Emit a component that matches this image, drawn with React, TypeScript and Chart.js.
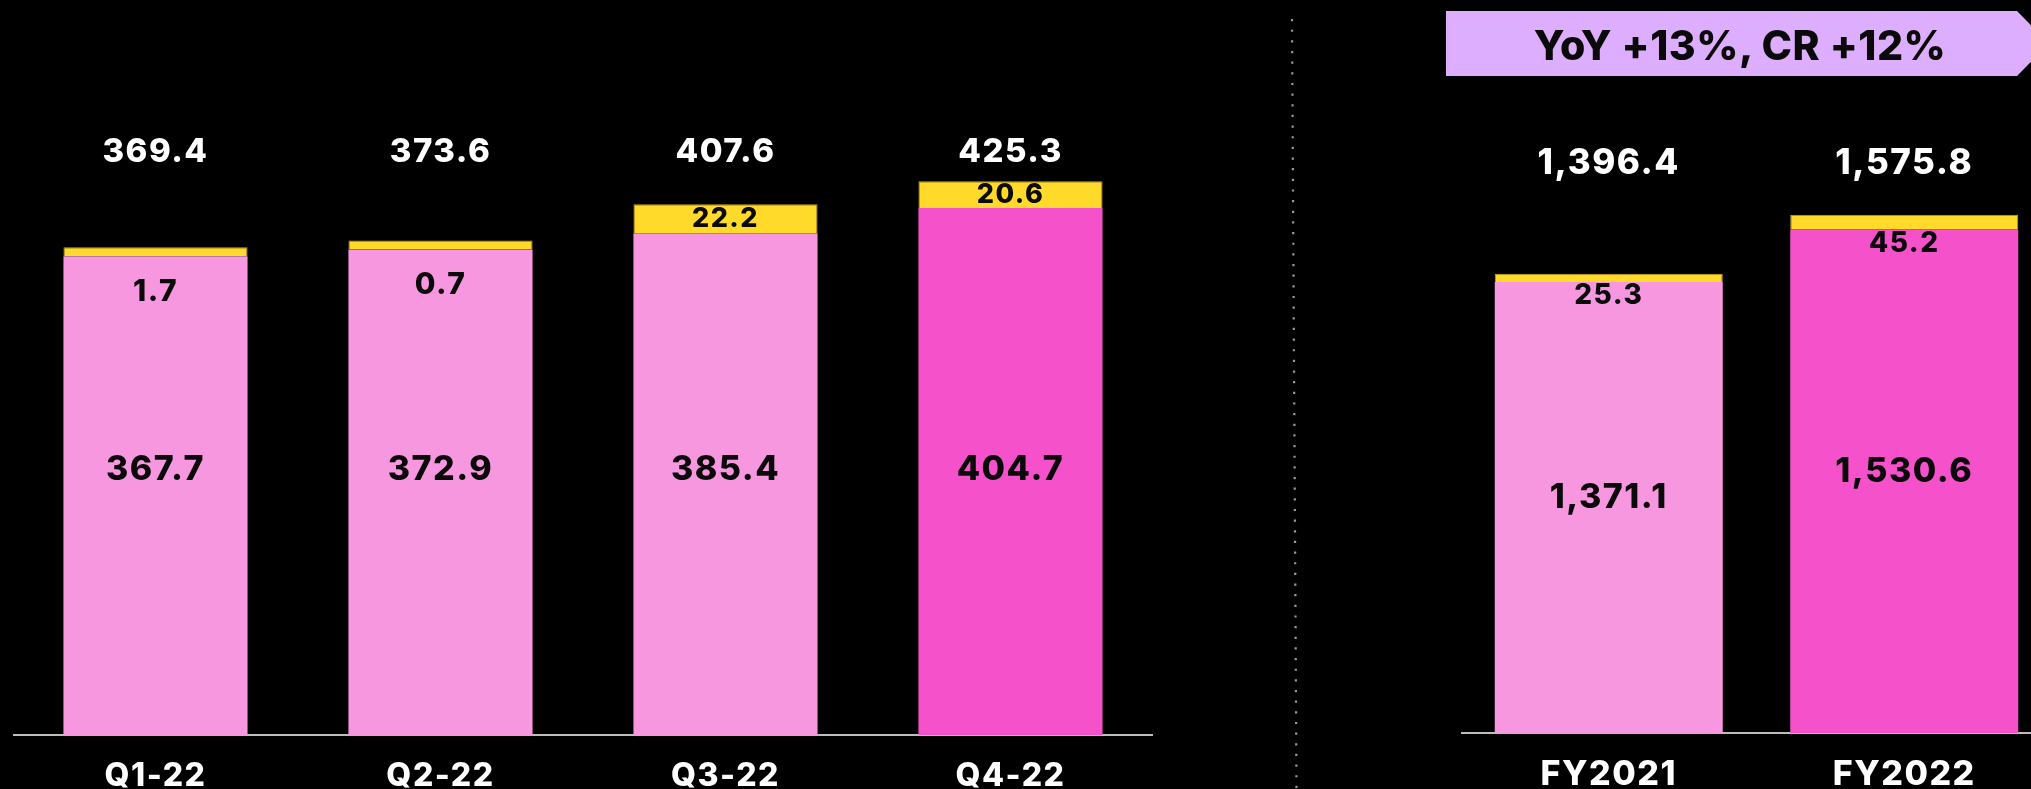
import React, { useEffect, useRef } from 'react';
import { Chart, registerables } from 'chart.js';

Chart.register(...registerables);

// ---- data ----
const quarterLabels = ['Q1-22', 'Q2-22', 'Q3-22', 'Q4-22'];
const quarterBase = [367.7, 372.9, 385.4, 404.7];
const quarterExtra = [1.7, 0.7, 22.2, 20.6];
const quarterTotal = [369.4, 373.6, 407.6, 425.3];

const yearLabels = ['FY2021', 'FY2022'];
const yearBase = [1371.1, 1530.6];
const yearExtra = [25.3, 45.2];
const yearTotal = [1396.4, 1575.8];

const badgeText = 'YoY +13%, CR +12%';

// ---- styles ----
const PINK = '#F797E0';
const MAGENTA = '#F451CB';
const YELLOW = '#FFDA2B';
const LAVENDER = '#DDADFE';
const AXIS = '#BDBDBD';
const FONT = 'Inter, "Noto Sans", "Liberation Sans", sans-serif';
const W = 800;
const SPACING = '1.5px';

const fmt = (v: number) =>
  v.toLocaleString('en-US', { minimumFractionDigits: 1, maximumFractionDigits: 1 });

const spacingPlugin = {
  id: 'letterSpacing',
  beforeDraw(chart: any) {
    (chart.ctx as any).letterSpacing = SPACING;
  },
};

const labelPlugin = {
  id: 'barLabels',
  afterDatasetsDraw(chart: any, _args: any, opts: any) {
    const ctx = chart.ctx;
    const yScale = chart.scales.y;
    const baseMeta = chart.getDatasetMeta(0);
    const extraMeta = chart.getDatasetMeta(1);
    const baseData = chart.data.datasets[0].data as number[];
    const extraData = chart.data.datasets[1].data as number[];
    const totals: number[] = opts.totals;
    const maxTotal = Math.max(...totals);
    const totalY = yScale.getPixelForValue(maxTotal) - opts.totalGap;
    ctx.save();
    (ctx as any).letterSpacing = SPACING;
    ctx.textAlign = 'center';
    ctx.textBaseline = 'middle';
    baseMeta.data.forEach((el: any, i: number) => {
      const p = el.getProps(['x', 'y', 'base'], true);
      ctx.fillStyle = '#0a0a0a';
      ctx.font = `${W} ${opts.baseFont}px ${FONT}`;
      ctx.fillText(fmt(baseData[i]), p.x, opts.pinkY(p.y, p.base, yScale, baseData[i]));
      const e = extraMeta.data[i].getProps(['x', 'y', 'base'], true);
      const h = e.base - e.y;
      const small = h < 20;
      const ey = small ? e.base + opts.smallGap : (e.y + e.base) / 2;
      ctx.font = `${W} ${small ? opts.smallFont : opts.extraFont}px ${FONT}`;
      ctx.fillText(fmt(extraData[i]), e.x, ey);
      ctx.fillStyle = '#ffffff';
      ctx.font = `${W} ${opts.totalFont}px ${FONT}`;
      ctx.fillText(fmt(totals[i]), p.x, totalY);
    });
    ctx.restore();
  },
};

function makeConfig(
  labels: string[],
  base: number[],
  extra: number[],
  totals: number[],
  highlightIndex: number,
  o: any
) {
  const colors = labels.map((_, i) => (i === highlightIndex ? MAGENTA : PINK));
  return {
    type: 'bar' as const,
    data: {
      labels,
      datasets: [
        {
          data: base,
          backgroundColor: colors,
          borderWidth: 0,
          categoryPercentage: 1,
          barPercentage: o.barPct,
        },
        {
          data: extra,
          backgroundColor: YELLOW,
          borderColor: '#C9A227',
          borderWidth: 1,
          minBarLength: o.minBar,
          categoryPercentage: 1,
          barPercentage: o.barPct,
        },
      ],
    },
    options: {
      responsive: false,
      maintainAspectRatio: false,
      animation: false as const,
      layout: { padding: 0 },
      plugins: {
        legend: { display: false },
        tooltip: { enabled: false },
        barLabels: {
          totals,
          totalGap: o.totalGap,
          totalFont: o.totalFont,
          baseFont: o.baseFont,
          extraFont: o.extraFont,
          smallFont: o.smallFont,
          smallGap: o.smallGap,
          pinkY: o.pinkY,
        },
      },
      scales: {
        x: {
          stacked: true,
          grid: { display: false },
          border: { display: true, color: AXIS, width: 2 },
          ticks: {
            color: '#ffffff',
            padding: o.tickPad,
            font: { family: FONT, size: o.tickFont, weight: W },
          },
          afterFit: (s: any) => {
            s.height = o.axisHeight;
          },
        },
        y: { stacked: true, display: false, min: 0, max: o.yMax },
      },
    },
    plugins: [spacingPlugin, labelPlugin],
  };
}

export default function App() {
  const leftRef = useRef<HTMLCanvasElement>(null);
  const rightRef = useRef<HTMLCanvasElement>(null);

  useEffect(() => {
    const left = new Chart(
      leftRef.current!,
      makeConfig(quarterLabels, quarterBase, quarterExtra, quarterTotal, 3, {
        barPct: 0.646,
        minBar: 9,
        yMax: 564.5,
        axisHeight: 54,
        tickFont: 32,
        tickPad: 14,
        totalGap: 29,
        totalFont: 33,
        baseFont: 34,
        extraFont: 27,
        smallFont: 30,
        smallGap: 36,
        pinkY: (_top: number, _base: number, scale: any) => scale.getPixelForValue(204),
      }) as any
    );
    const right = new Chart(
      rightRef.current!,
      makeConfig(yearLabels, yearBase, yearExtra, yearTotal, 1, {
        barPct: 0.7716,
        minBar: 0,
        yMax: 2229,
        axisHeight: 56,
        tickFont: 34,
        tickPad: 13,
        totalGap: 51,
        totalFont: 35,
        baseFont: 34,
        extraFont: 28,
        smallFont: 28,
        smallGap: 13.5,
        pinkY: (top: number, base: number) => (top + base) / 2 - 10,
      }) as any
    );
    return () => {
      left.destroy();
      right.destroy();
    };
  }, []);

  return (
    <div
      style={{
        position: 'fixed',
        left: 0,
        top: 0,
        width: 2031,
        height: 789,
        background: '#000',
        overflow: 'hidden',
      }}
    >
      <canvas
        ref={leftRef}
        width={1140}
        height={789}
        style={{ position: 'absolute', left: 13, top: 0, width: 1140, height: 789, display: 'block' }}
      />
      <canvas
        ref={rightRef}
        width={591}
        height={789}
        style={{ position: 'absolute', left: 1461, top: 0, width: 591, height: 789, display: 'block' }}
      />
      <svg
        width={2031}
        height={789}
        style={{ position: 'absolute', left: 0, top: 0, pointerEvents: 'none' }}
      >
        <line
          x1={1292}
          y1={19}
          x2={1296.5}
          y2={789}
          stroke="#9a9a9a"
          strokeWidth={2.2}
          strokeDasharray="2.2 8.45"
        />
      </svg>
      <div
        style={{
          position: 'absolute',
          left: 1446,
          top: 11,
          width: 603,
          height: 65,
          background: LAVENDER,
          clipPath: 'polygon(0 0, 571px 0, 603px 50%, 571px 100%, 0 100%)',
        }}
      >
        <span
          style={{
            position: 'absolute',
            left: 294,
            top: 'calc(50% + 1px)',
            transform: 'translate(-50%, -50%)',
            font: `${W} 41px ${FONT}`,
            lineHeight: 1,
            letterSpacing: '0.5px',
            color: '#0a0a0a',
            whiteSpace: 'nowrap',
          }}
        >
          {badgeText}
        </span>
      </div>
    </div>
  );
}
